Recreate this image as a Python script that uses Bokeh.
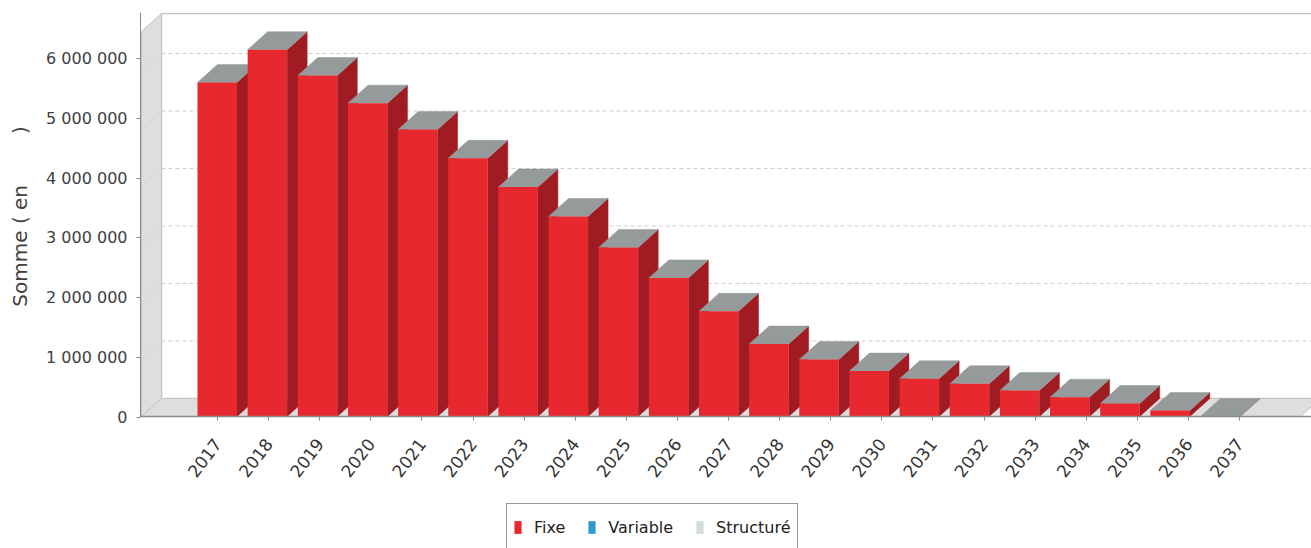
import math
from bokeh.plotting import figure
from bokeh.models import Range1d, LinearAxis, FixedTicker, ColumnDataSource, Legend, LegendItem, Label
from bokeh.embed import file_html
from bokeh.resources import INLINE

# ---------------- data ----------------
years = ["2017", "2018", "2019", "2020", "2021", "2022", "2023", "2024", "2025", "2026", "2027",
         "2028", "2029", "2030", "2031", "2032", "2033", "2034", "2035", "2036", "2037"]
fixe = [5810000, 6380000, 5930000, 5450000, 4990000, 4490000, 3990000, 3480000, 2940000, 2410000, 1830000,
        1260000, 990000, 790000, 656000, 569000, 452000, 336000, 226000, 104000, 0]
variable = [0, 0, 0, 0, 0, 0, 0, 0, 0, 0, 0, 0, 0, 0, 0, 0, 0, 0, 0, 0, 0]
structure = [0, 0, 0, 0, 0, 0, 0, 0, 0, 0, 0, 0, 0, 0, 0, 0, 0, 0, 0, 0, 0]
series_names = ["Fixe", "Variable", "Structuré"]
y_ticks = [0, 1000000, 2000000, 3000000, 4000000, 5000000, 6000000]
y_tick_labels = ["0", "1 000 000", "2 000 000", "3 000 000", "4 000 000", "5 000 000", "6 000 000"]
y_title = "Somme ( en" + "\u00a0" * 7 + " )"

# ---------------- layout constants (pixels in the window) ----------------
W_TOTAL, H_TOTAL = 1311, 548
FRAME_L, FRAME_R, FRAME_T, FRAME_B = 0, 1311, 12, 548
AXIS_X_PX = 140
BAR0_PX, BAR_PITCH, BAR_W_PX = 216.75, 50.15, 39.5      # plot (front plane) category scale
ZERO_PX, PX_PER_UNIT = 416.0, 57.5 / 1e6                 # plot (front plane) value scale
DX_PX, DY_PX = 20.0, 18.0                                # 3D depth offset
TICK0_PX, TICK_PITCH = 217.0, 51.1                       # category axis scale
TZERO_PX, TPX_PER_UNIT = 416.5, 59.7 / 1e6               # value axis scale
WALL_TOP_PX, FLOOR_R_PX = 31.0, 1300.0
TITLE_X_PX, TITLE_Y_PX = 19, 216
LEGEND_L_PX = 506

RED, RED_SIDE, TOP_GREY = "#e8282f", "#a11c22", "#959a9b"
BLUE, LIGHT = "#3399cc", "#d5dcdc"
WALL_FILL, WALL_LINE, GRID = "#dedede", "#c4c4c4", "#cdcdcd"
FONT = "DejaVu Sans"

def xd(px):
    return (px - BAR0_PX) / BAR_PITCH

def yd(py):
    return (ZERO_PX - py) / PX_PER_UNIT

def xt(px):
    return (px - TICK0_PX) / TICK_PITCH

DX = DX_PX / BAR_PITCH
DY = DY_PX / PX_PER_UNIT
BW = BAR_W_PX / BAR_PITCH

p = figure(width=W_TOTAL, height=H_TOTAL,
           x_range=Range1d(xd(FRAME_L), xd(FRAME_R)),
           y_range=Range1d(yd(FRAME_B), yd(FRAME_T)),
           output_backend="svg", toolbar_location=None,
           x_axis_location=None, y_axis_location=None,
           min_border_left=0, min_border_right=0,
           min_border_top=FRAME_T, min_border_bottom=0,
           background_fill_color="white", border_fill_color="white",
           outline_line_color=None)
p.grid.visible = False

p.extra_x_ranges = {"xt": Range1d(xt(FRAME_L), xt(FRAME_R))}
yt_end = (TZERO_PX - FRAME_T) / TPX_PER_UNIT
p.extra_y_ranges = {"yt": Range1d(-(FRAME_B - TZERO_PX) / TPX_PER_UNIT, yt_end)}

# ---------------- walls ----------------
x0 = xd(AXIS_X_PX + 1)
xr = xd(FLOOR_R_PX)
wt = yd(WALL_TOP_PX)
p.patch([x0 + DX, xr + DX, xr + DX, x0 + DX], [DY, DY, wt + DY, wt + DY],
        fill_color="white", line_color=WALL_LINE, line_width=1.5)
p.patch([x0, x0, x0 + DX, x0 + DX], [0, wt, wt + DY, DY],
        fill_color=WALL_FILL, line_color=WALL_LINE, line_width=1)
p.patch([x0, xr, xr + DX, x0 + DX], [0, 0, DY, DY],
        fill_color=WALL_FILL, line_color=WALL_LINE, line_width=1)

grid_vals = [v for v in y_ticks if v > 0]
p.segment(x0=[x0 + DX] * len(grid_vals), x1=[xr + DX] * len(grid_vals),
          y0=[v + DY for v in grid_vals], y1=[v + DY for v in grid_vals],
          line_color=GRID, line_dash="4 3", line_width=1)
p.segment(x0=[x0] * len(grid_vals), x1=[x0 + DX] * len(grid_vals),
          y0=grid_vals, y1=[v + DY for v in grid_vals],
          line_color=GRID, line_dash="2 2", line_width=1)

# ---------------- 3D bars ----------------
idx = list(range(len(years)))
totals = [f + v + s for f, v, s in zip(fixe, variable, structure)]
xs, ys, cols = [], [], []
for i, t in zip(idx, totals):
    L, R = i - BW / 2, i + BW / 2
    xs.append([R, R + DX, R + DX, R]); ys.append([0, DY, t + DY, t]); cols.append(RED_SIDE)
    xs.append([L, L + DX, R + DX, R]); ys.append([t, t + DY, t + DY, t]); cols.append(TOP_GREY)
p.patches("xs", "ys", source=ColumnDataSource(dict(xs=xs, ys=ys, c=cols)),
          fill_color="c", line_color="c", line_width=0.5)

b1 = [f + v for f, v in zip(fixe, variable)]
r_fixe = p.vbar(x=idx, bottom=0, top=fixe, width=BW, fill_color=RED, line_color=None)
r_var = p.vbar(x=idx, bottom=fixe, top=b1, width=BW, fill_color=BLUE, line_color=None)
r_str = p.vbar(x=idx, bottom=b1, top=totals, width=BW, fill_color=LIGHT, line_color=None)

# ---------------- axes ----------------
yaxis = LinearAxis(y_range_name="yt", ticker=FixedTicker(ticks=y_ticks),
                   bounds=(0, yt_end), fixed_location=xd(AXIS_X_PX),
                   major_label_overrides=dict(zip(y_ticks, y_tick_labels)))
yaxis.axis_line_color = "#8a8a8a"
yaxis.major_tick_line_color = "#8a8a8a"
yaxis.major_tick_out = 4
yaxis.major_tick_in = 0
yaxis.minor_tick_line_color = None
yaxis.major_label_text_font = FONT
yaxis.major_label_text_font_size = "16px"
yaxis.major_label_text_color = "#404040"
yaxis.major_label_standoff = 9
p.add_layout(yaxis, "left")

p.add_layout(Label(x=TITLE_X_PX - FRAME_L, y=FRAME_B - TITLE_Y_PX, x_units="screen", y_units="screen",
                   text=y_title, angle=math.pi / 2, text_align="center", text_baseline="middle",
                   text_font=FONT, text_font_size="20px", text_color="#404040"))

xaxis = LinearAxis(x_range_name="xt", ticker=FixedTicker(ticks=idx),
                   bounds=(xt(AXIS_X_PX), xt(FRAME_R)), fixed_location=0,
                   major_label_overrides=dict(zip(idx, years)))
xaxis.axis_line_color = "#8a8a8a"
xaxis.axis_line_width = 1.5
xaxis.major_tick_line_color = "#8a8a8a"
xaxis.major_tick_out = 4
xaxis.major_tick_in = 0
xaxis.minor_tick_line_color = None
xaxis.major_label_orientation = 0.92
xaxis.major_label_text_font = FONT
xaxis.major_label_text_font_size = "17px"
xaxis.major_label_text_color = "#333333"
xaxis.major_label_standoff = 20
p.add_layout(xaxis, "below")

# ---------------- legend ----------------
legend = Legend(items=[LegendItem(label=series_names[0], renderers=[r_fixe]),
                       LegendItem(label=series_names[1], renderers=[r_var]),
                       LegendItem(label=series_names[2], renderers=[r_str])],
                orientation="horizontal", location=(LEGEND_L_PX - FRAME_L, -3), margin=0,
                padding=6, spacing=22, glyph_width=9, glyph_height=16,
                label_standoff=12, label_height=34,
                label_text_font=FONT, label_text_font_size="16px", label_text_color="#222222",
                border_line_color="#333333", border_line_width=1,
                background_fill_color="white", background_fill_alpha=1.0)
p.add_layout(legend)

open("out.html", "w").write(file_html(p, INLINE))
